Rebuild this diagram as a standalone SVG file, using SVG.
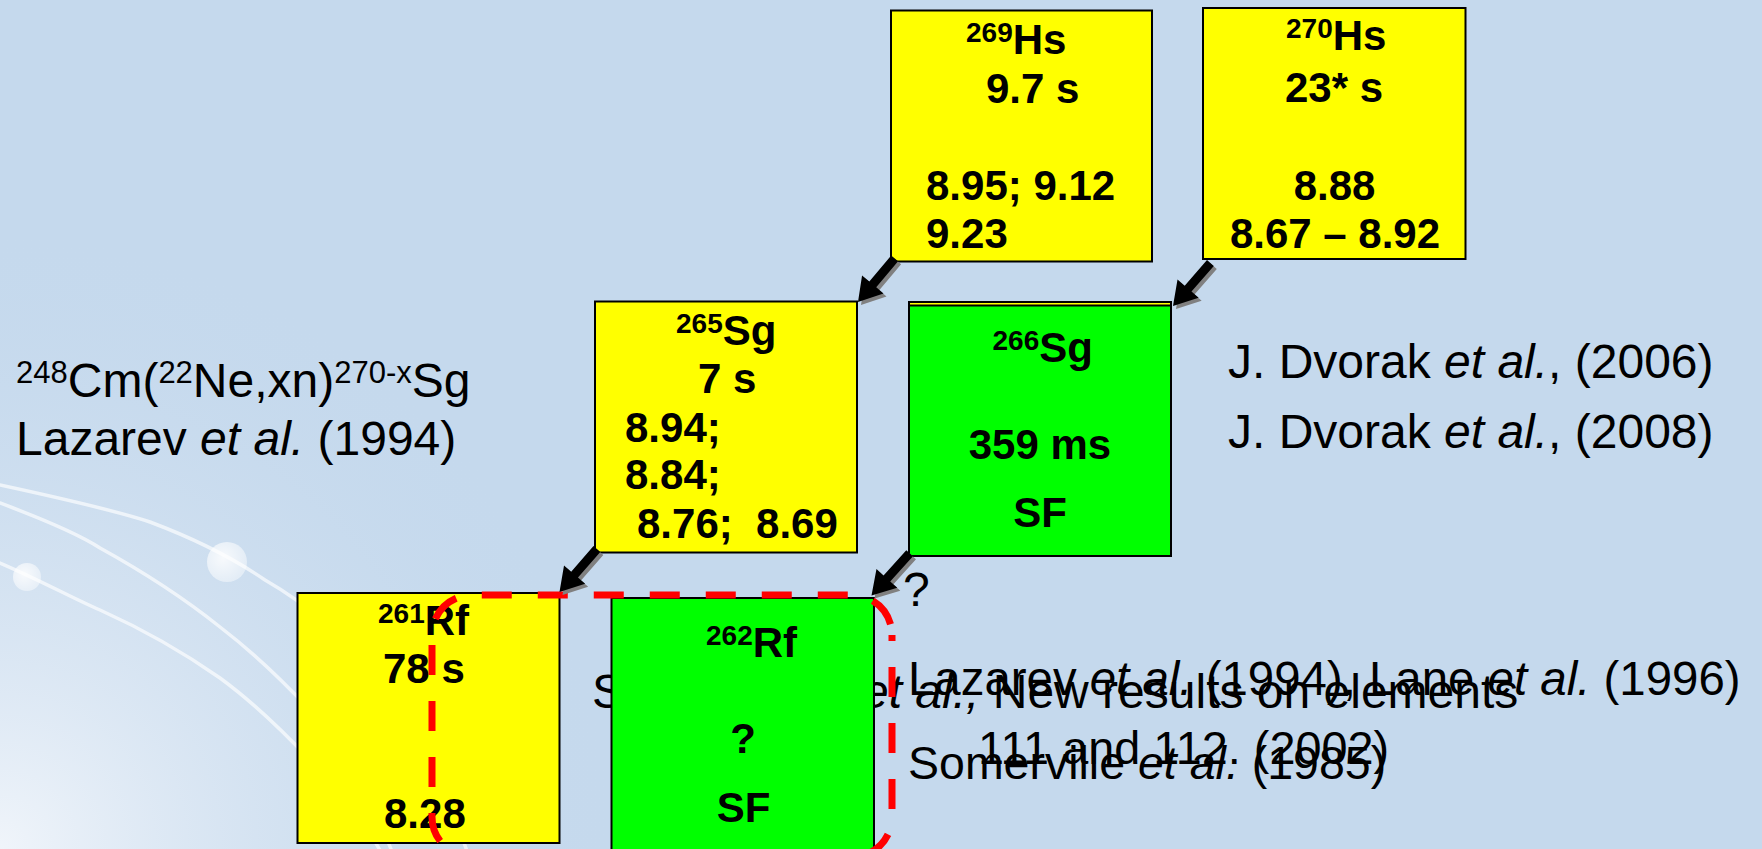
<svg xmlns="http://www.w3.org/2000/svg" width="1762" height="849" viewBox="0 0 1762 849">
<defs>
<style>
.t{font-family:"Liberation Sans",Arial,sans-serif;font-size:48px;fill:#000}
.n{font-family:"Liberation Sans",Arial,sans-serif;font-size:42px;font-weight:bold;fill:#000}
.sp{font-size:28px}
.ss{font-size:31px}
.i{font-style:italic}
.y{fill:#FFFF00;stroke:#000;stroke-width:2}
.g{fill:#00FF00;stroke:#000;stroke-width:2}
.curve{fill:none;stroke:#FFFFFF;stroke-opacity:0.65;stroke-width:3.5;stroke-linecap:round}
.arr{fill:#000}
.sh{fill:#808080}
.dash{fill:none;stroke:#FF0000;stroke-width:7;stroke-dasharray:30 26}
</style>
<radialGradient id="corner" cx="0" cy="849" r="620" gradientUnits="userSpaceOnUse">
<stop offset="0" stop-color="#F2F6FB" stop-opacity="0.95"/>
<stop offset="0.5" stop-color="#DDE8F4" stop-opacity="0.5"/>
<stop offset="1" stop-color="#C5D9ED" stop-opacity="0"/>
</radialGradient>
<radialGradient id="ball" cx="0.4" cy="0.4" r="0.6">
<stop offset="0" stop-color="#FFFFFF" stop-opacity="0.85"/>
<stop offset="1" stop-color="#FFFFFF" stop-opacity="0.45"/>
</radialGradient>
<path id="ar" d="M0,0 L-23,-14 L-23,-4.5 L-57,-4.5 L-57,4.5 L-23,4.5 L-23,14 Z"/>
</defs>

<g id="background">
<rect x="0" y="0" width="1762" height="849" fill="#C5D9ED"/>
<rect x="0" y="0" width="1762" height="849" fill="url(#corner)"/>
<path class="curve" d="M0,485 C60,498 120,512 150,522 C190,537 230,556 265,580 C300,600 340,630 380,680 C420,730 450,800 470,860"/>
<path class="curve" d="M0,503 C40,518 80,535 100,548 C140,570 180,595 220,627 C250,650 280,678 310,710 C340,745 370,790 395,860"/>
<path class="curve" d="M0,563 C40,580 70,597 100,610 C140,628 180,650 220,678 C250,700 280,728 310,760 C340,790 365,820 385,860"/>
<circle cx="227" cy="562" r="20" fill="url(#ball)"/>
<circle cx="27" cy="577" r="14" fill="url(#ball)"/>
</g>

<g id="labels">
<text class="t" x="16" y="397"><tspan class="ss" dy="-14">248</tspan><tspan dy="14">Cm(</tspan><tspan class="ss" dy="-14">22</tspan><tspan dy="14">Ne,xn)</tspan><tspan class="ss" dy="-14">270-x</tspan><tspan dy="14">Sg</tspan></text>
<text class="t" x="16" y="455">Lazarev <tspan class="i">et al.</tspan> (1994)</text>
<text class="t" x="1228" y="378">J. Dvorak <tspan class="i">et al.</tspan>, (2006)</text>
<text class="t" x="1228" y="448">J. Dvorak <tspan class="i">et al.</tspan>, (2008)</text>
<text class="t" x="592" y="708">S</text>
<text class="t" x="862" y="708"><tspan class="i">et al.,</tspan> New results on elements</text>
<text class="t" x="978" y="764" style="font-size:46.8px">111 and 112. (2002)</text>
<text class="t" x="908" y="695" style="font-size:47.4px">Lazarev <tspan class="i">et al.</tspan> (1994), Lane <tspan class="i">et al.</tspan> (1996)</text>
<text class="t" x="908" y="779" style="font-size:46.5px">Somerville <tspan class="i">et al.</tspan> (1985)</text>
<text class="t" x="903" y="606">?</text>
</g>

<g id="node-269Hs">
<rect class="y" x="891" y="10.5" width="261" height="251"/>
<text class="n" x="966" y="54"><tspan class="sp" dy="-12">269</tspan><tspan dy="12">Hs</tspan></text>
<text class="n" x="986" y="103">9.7 s</text>
<text class="n" x="926" y="200">8.95; 9.12</text>
<text class="n" x="926" y="248">9.23</text>
</g>

<g id="node-270Hs">
<rect class="y" x="1203" y="8" width="262.5" height="251"/>
<text class="n" x="1286" y="50"><tspan class="sp" dy="-12">270</tspan><tspan dy="12">Hs</tspan></text>
<text class="n" x="1285" y="102">23* s</text>
<text class="n" x="1334.5" y="200" text-anchor="middle">8.88</text>
<text class="n" x="1335" y="248" text-anchor="middle">8.67 – 8.92</text>
</g>

<g id="node-265Sg">
<rect class="y" x="595" y="301.5" width="262" height="251"/>
<text class="n" x="676" y="345"><tspan class="sp" dy="-12">265</tspan><tspan dy="12">Sg</tspan></text>
<text class="n" x="698" y="393">7 s</text>
<text class="n" x="625" y="441.5">8.94;</text>
<text class="n" x="625" y="489">8.84;</text>
<text class="n" x="637" y="538" xml:space="preserve">8.76;  8.69</text>
</g>

<g id="node-266Sg">
<rect class="y" x="909" y="302" width="262" height="254"/>
<rect class="g" x="909" y="305.5" width="262" height="250.5"/>
<text class="n" x="992.5" y="362"><tspan class="sp" dy="-12">266</tspan><tspan dy="12">Sg</tspan></text>
<text class="n" x="1040" y="459" text-anchor="middle">359 ms</text>
<text class="n" x="1040" y="527" text-anchor="middle">SF</text>
</g>

<g id="node-261Rf">
<rect class="y" x="297.5" y="593" width="262" height="250"/>
<text class="n" x="378" y="635"><tspan class="sp" dy="-12">261</tspan><tspan dy="12">Rf</tspan></text>
<text class="n" x="383" y="683">78 s</text>
<text class="n" x="384" y="828">8.28</text>
</g>

<g id="node-262Rf">
<rect class="g" x="611.5" y="598" width="262.5" height="262"/>
<text class="n" x="706" y="656.5"><tspan class="sp" dy="-12">262</tspan><tspan dy="12">Rf</tspan></text>
<text class="n" x="743" y="752.5" text-anchor="middle">?</text>
<text class="n" x="743.5" y="821.5" text-anchor="middle">SF</text>
</g>

<g id="highlight">
<path class="dash" stroke-dashoffset="39.5" d="M432,635 A40,40 0 0 1 472,595 L852,595 A40,40 0 0 1 892,635"/>
<path class="dash" stroke-dashoffset="24" d="M892,635 L892,817 A40,40 0 0 1 852,857"/>
<path class="dash" stroke-dashoffset="46" d="M432,635 L432,817 A40,40 0 0 0 472,857 L852,857"/>
</g>

<g id="connectors">
<use href="#ar" class="sh" transform="translate(861,305) rotate(130)"/>
<use href="#ar" class="arr" transform="translate(858,302) rotate(130)"/>
<use href="#ar" class="sh" transform="translate(1176,309) rotate(131)"/>
<use href="#ar" class="arr" transform="translate(1173,306) rotate(131)"/>
<use href="#ar" class="sh" transform="translate(562.5,595) rotate(131)"/>
<use href="#ar" class="arr" transform="translate(559.5,592) rotate(131)"/>
<use href="#ar" class="sh" transform="translate(874.5,598.5) rotate(132)"/>
<use href="#ar" class="arr" transform="translate(871.5,595.5) rotate(132)"/>
</g>
</svg>
